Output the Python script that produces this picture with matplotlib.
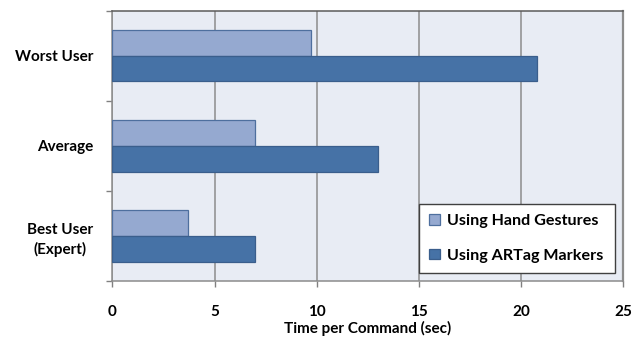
import matplotlib
matplotlib.use("Agg")
import matplotlib.pyplot as plt
import numpy as np

# Time per command (seconds) for each user group
categories = ["Best User\n(Expert)", "Average", "Worst User"]
hand_gestures = [3.7, 7.0, 9.7]
artag_markers = [7.0, 13.0, 20.8]
series_names = ["Using Hand Gestures", "Using ARTag Markers"]
x_ticks = [0, 5, 10, 15, 20, 25]

plt.rcParams["font.family"] = ["Lato", "DejaVu Sans"]
plt.rcParams["font.weight"] = "bold"

fig = plt.figure(figsize=(6.41, 3.39), dpi=100)
ax = fig.add_axes([0.1755, 0.171, 0.9720 - 0.1755, 0.9684 - 0.171])
ax.set_facecolor("#E8ECF4")

y = np.arange(len(categories))
h = 0.285
ax.barh(y + h / 2, hand_gestures, height=h, color="#95A9D0",
        edgecolor="#4E6F9E", linewidth=0.9, label=series_names[0], zorder=3)
ax.barh(y - h / 2, artag_markers, height=h, color="#4672A6",
        edgecolor="#3A5E8C", linewidth=0.9, label=series_names[1], zorder=3)

ax.set_xlim(0, 25)
ax.set_ylim(-0.5, len(categories) - 0.5)

ax.set_xticks(x_ticks)
ax.set_xticklabels([str(t) for t in x_ticks], fontsize=11, fontweight="bold")
ax.tick_params(axis="x", direction="out", length=4.5, width=1.0,
               color="#808080", pad=13)
ax.xaxis.grid(True, color="#8C8C8C", linewidth=1.1, zorder=1)
ax.set_axisbelow(True)

ax.set_yticks(y)
ax.set_yticklabels(categories, fontsize=11, fontweight="bold",
                   multialignment="center", linespacing=1.45)
ax.tick_params(axis="y", which="major", length=0, pad=14)
ax.set_yticks(np.arange(-0.5, len(categories), 1.0), minor=True)
ax.tick_params(axis="y", which="minor", direction="out", length=4.5,
               width=1.0, color="#808080")

ax.set_xlabel("Time per Command (sec)", fontsize=11, fontweight="bold",
              labelpad=1)

for side in ("left", "bottom", "right"):
    ax.spines[side].set_color("#8C8C8C")
    ax.spines[side].set_linewidth(1.1)
ax.spines["top"].set_color("#5A5A5A")
ax.spines["top"].set_linewidth(1.1)
ax.spines["right"].set_linewidth(1.6)

leg = ax.legend(loc="lower left", bbox_to_anchor=(0.600, 0.0296, 0.384, 0.255),
                mode="expand", fontsize=11.6, frameon=True, fancybox=False,
                handlelength=0.65, handleheight=0.65, handletextpad=0.45,
                labelspacing=1.25, borderpad=0.65, borderaxespad=0)
leg.get_frame().set_edgecolor("#404040")
leg.get_frame().set_linewidth(1.0)
leg.get_frame().set_facecolor("white")
leg.get_frame().set_alpha(1.0)
for t in leg.get_texts():
    t.set_fontweight("bold")
leg.set_zorder(5)

fig.savefig("out.png", dpi=100, facecolor="white")
